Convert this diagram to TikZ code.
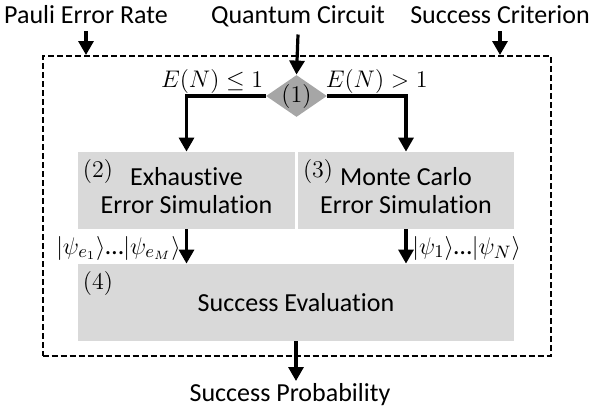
\documentclass[tikz,border=0pt]{standalone}
\usepackage{fontspec}
\setmainfont{Carlito}[Ligatures=NoCommon]
\usetikzlibrary{shapes.geometric,arrows.meta}
\definecolor{boxgray}{RGB}{217,217,217}
\definecolor{decgray}{RGB}{166,166,166}
\tikzset{
  blk/.style={fill=boxgray,minimum height=38.5pt,inner sep=0pt,align=center},
  arr/.style={line width=1.6pt,-{Triangle[width=7.5pt,length=7pt]}},
  num/.style={anchor=north west,inner xsep=2.5pt,inner ysep=3.5pt},
  cond/.style={inner sep=1pt,font=\fontsize{12}{14}\selectfont},
}
\begin{document}
\begin{tikzpicture}[x=0.5pt,y=-0.5pt,font=\fontsize{13}{14}\selectfont]
\useasboundingbox (0,0) rectangle (590,412);
\node[anchor=base] (pauli) at (86,24) {Pauli Error Rate};
\node[anchor=base] (circ) at (298,24) {Quantum Circuit};
\node[anchor=base] (crit) at (500,24) {Success Criterion};
\node[draw,line width=1pt,dash pattern=on 3pt off 1.5pt,minimum width=254pt,minimum height=150pt,inner sep=0pt] (frame) at (296.7,206) {};
\node[diamond,fill=decgray,minimum width=30.5pt,minimum height=21pt,inner sep=0pt,label=center:{$(1)$}] (dec) at (296.5,96) {};
\node[cond,anchor=south east] (le) at (dec.west) {$E(N)\leq 1$};
\node[cond,anchor=south west] (gt) at ([xshift=-2pt]dec.east) {$E(N)>1$};
\node[blk,minimum width=108.5pt,label={[num]north west:$(2)$}] (exh) at (186.5,190.5) {Exhaustive\\Error Simulation};
\node[blk,minimum width=108pt,label={[num]north west:$(3)$}] (mc) at (406,190.5) {Monte Carlo\\Error Simulation};
\node[blk,minimum width=218pt,label={[num]north west:$(4)$}] (eval) at (296,302.5) {Success Evaluation};
\node[anchor=east,inner sep=0pt] (kets1) at (181,248) {$|\psi_{e_1}\rangle$…$|\psi_{e_M}\rangle$};
\node[anchor=west,inner sep=0pt] (kets2) at (412,248) {$|\psi_1\rangle$…$|\psi_N\rangle$};
\node[anchor=north,inner sep=1pt] (prob) at (290,381) {Success Probability};
\draw[arr] (pauli.south) -- (pauli.south |- frame.north);
\draw[arr] (circ.south) -- (dec.north);
\draw[arr] (crit.south) -- (crit.south |- frame.north);
\draw[arr] (dec.west) -| (exh.north);
\draw[arr] (dec.east) -| (mc.north);
\draw[arr] (exh.south) -- (exh.south |- eval.north);
\draw[arr] (mc.south) -- (mc.south |- eval.north);
\draw[arr] (eval.south) -- (eval.south |- prob.north);
\end{tikzpicture}
\end{document}
